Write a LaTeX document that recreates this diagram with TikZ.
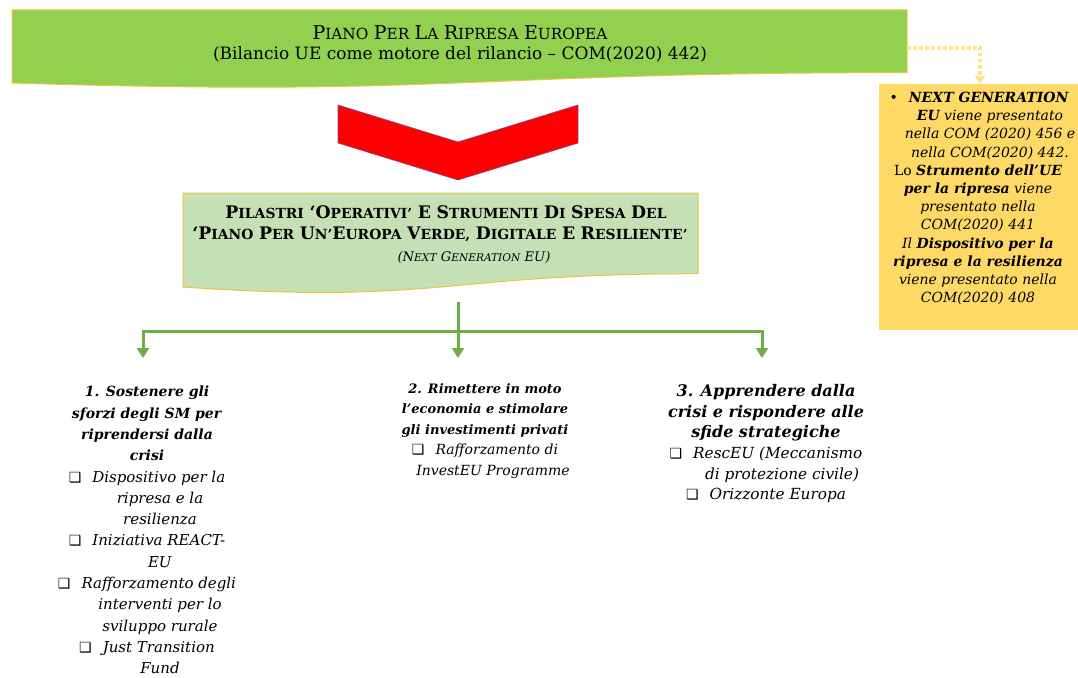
\documentclass[tikz,border=0pt]{standalone}
\usepackage{fontspec}
\setmainfont{DejaVu Serif}
\newfontfamily\symf{DejaVu Sans}
\usetikzlibrary{arrows.meta}
\definecolor{gA}{HTML}{92D050}
\definecolor{gB}{HTML}{C5E0B4}
\definecolor{goldline}{HTML}{E8C547}
\definecolor{yel}{HTML}{FFD966}
\definecolor{dotc}{HTML}{FFE28A}
\definecolor{garr}{HTML}{70AD47}
\definecolor{chevb}{HTML}{7A4A8C}
\newcommand\cbx{{\symf\upshape\fontsize{14}{14}\selectfont ❑}}
\newcommand\hd[1]{\textbf{\textit{#1}}}
\newcommand\itm[1]{\textit{#1}}
\newcommand\scA[2]{{\fontsize{19}{19}\selectfont #1}{\fontsize{15.3}{15.3}\selectfont #2}}
\newcommand\scB[2]{{\fontsize{17.3}{17.3}\selectfont #1}{\fontsize{13.9}{13.9}\selectfont #2}}
\newcommand\scC[2]{{\fontsize{13.2}{13.2}\selectfont #1}{\fontsize{10.6}{10.6}\selectfont #2}}
\begin{document}
\begin{tikzpicture}[x=1pt,y=-1pt,
  boxline/.style={draw=goldline,line width=1pt},
  coltext/.style={align=center,inner sep=0pt,anchor=north,text=black},
  garrow/.style={draw=garr,line width=3pt,-{Triangle[length=10pt,width=12pt]}},
  dotconn/.style={draw=dotc,line width=3.5pt,dash pattern=on 3.5pt off 2.5pt,-{Triangle[length=8pt,width=10pt,fill=dotc]}}]
\useasboundingbox (0,0) rectangle (1078,677);
% top box
\path[fill=gA,boxline] (12,10) -- (907,10) -- (907,72.6) .. controls (459.5,72.6) and (459.5,96.6) .. (12,83) -- cycle;
\node[coltext,font={\fontsize{17}{20}\selectfont}] (plan) at (460,25)
 {\scA{P}{IANO} \scA{P}{ER} \scA{L}{A} \scA{R}{IPRESA} \scA{E}{UROPEA}\\
  (Bilancio UE come motore del rilancio – COM(2020) 442)};
\coordinate (b1e) at (907,48);
% chevron
\path[fill=red,draw=chevb,line width=0.6pt] (338,105) -- (458,142) -- (578,105) -- (578,143) -- (458,180) -- (338,143) -- cycle;
% second box
\path[fill=gB,boxline] (183,193) -- (698,193) -- (698,273.7) .. controls (440.5,273.7) and (440.5,304.7) .. (183,287) -- cycle;
\node[coltext,font={\bfseries\fontsize{16}{21.5}\selectfont}] (pil) at (440,205)
 {\hspace*{12pt}\scB{P}{ILASTRI} \scB{‘O}{PERATIVI’} \scB{E}{} \scB{S}{TRUMENTI} \scB{D}{I} \scB{S}{PESA} \scB{D}{EL}\\
  \scB{‘P}{IANO} \scB{P}{ER} \scB{U}{N’}\scB{E}{UROPA} \scB{V}{ERDE,} \scB{D}{IGITALE} \scB{E}{} \scB{R}{ESILIENTE’}\\
  \hspace*{68pt}{\mdseries\itshape\fontsize{13.2}{13.2}\selectfont (\scC{N}{EXT} \scC{G}{ENERATION} \scC{EU}{})}};
% yellow box
\node[fill=yel,minimum width=199pt,minimum height=246pt,inner sep=0pt,anchor=north west] (nge) at (879,84) {};
\coordinate (ngetop) at (980,84);
\draw[dotconn] (b1e) -| (ngetop);
\node[coltext,font={\itshape\fontsize{14}{18.2}\selectfont}] (ngetext) at (978,92)
 {\hspace*{2pt}{\upshape\symf •}\hspace{11pt}\textbf{NEXT GENERATION}\\
  \hspace*{24pt}\textbf{EU} viene presentato\\
  \hspace*{24pt}nella COM (2020) 456 e\\
  \hspace*{24pt}nella COM(2020) 442.\\
  {\upshape Lo} \textbf{Strumento dell’UE}\\
  \textbf{per la ripresa} viene\\
  presentato nella\\
  COM(2020) 441\\
  Il \textbf{Dispositivo per la}\\
  \textbf{ripresa e la resilienza}\\
  viene presentato nella\\
  COM(2020) 408};
% green tree
\coordinate (hub) at (458,302);
\coordinate (j) at (458,331);
\coordinate (t1) at (143,358);
\coordinate (t2) at (458,358);
\coordinate (t3) at (762,358);
\draw[garrow] (hub) -- (t2);
\draw[garrow] (j) -| (t1);
\draw[garrow] (j) -| (t3);
% columns
\node[coltext,font={\fontsize{15}{21.3}\selectfont}] (c1) at (147,386)
 {\hd{\fontsize{14}{14}\selectfont 1. Sostenere gli}\\
  \hd{\fontsize{14}{14}\selectfont sforzi degli SM per}\\
  \hd{\fontsize{14}{14}\selectfont riprendersi dalla}\\
  \hd{\fontsize{14}{14}\selectfont crisi}\\
  \cbx\hspace{11pt}\itm{Dispositivo per la}\\
  \hspace*{26pt}\itm{ripresa e la}\\
  \hspace*{26pt}\itm{resilienza}\\
  \cbx\hspace{11pt}\itm{Iniziativa REACT-}\\
  \hspace*{26pt}\itm{EU}\\
  \cbx\hspace{11pt}\itm{Rafforzamento degli}\\
  \hspace*{26pt}\itm{interventi per lo}\\
  \hspace*{26pt}\itm{sviluppo rurale}\\
  \cbx\hspace{11pt}\itm{Just Transition}\\
  \hspace*{26pt}\itm{Fund}};
\node[coltext,font={\fontsize{14}{20.5}\selectfont}] (c2) at (485,383)
 {\hd{\fontsize{13}{13}\selectfont 2. Rimettere in moto}\\
  \hd{\fontsize{13}{13}\selectfont l’economia e stimolare}\\
  \hd{\fontsize{13}{13}\selectfont gli investimenti privati}\\
  \cbx\hspace{11pt}\itm{Rafforzamento di}\\
  \hspace*{16pt}\itm{InvestEU Programme}};
\node[coltext,font={\fontsize{15.3}{20.7}\selectfont}] (c3) at (766,384)
 {\hd{\fontsize{16}{16}\selectfont 3. Apprendere dalla}\\
  \hd{\fontsize{16}{16}\selectfont crisi e rispondere alle}\\
  \hd{\fontsize{16}{16}\selectfont sfide strategiche}\\
  \cbx\hspace{11pt}\itm{RescEU (Meccanismo}\\
  \hspace*{32pt}\itm{di protezione civile)}\\
  \cbx\hspace{11pt}\itm{Orizzonte Europa}};
\end{tikzpicture}
\end{document}
